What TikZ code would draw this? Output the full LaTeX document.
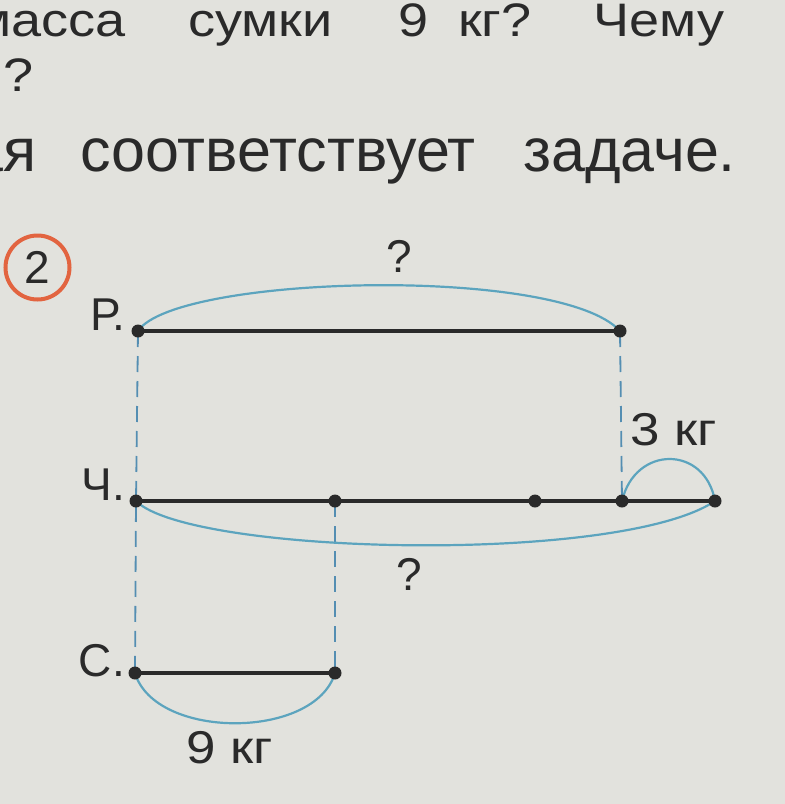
\documentclass[tikz,border=0pt]{standalone}
\usepackage{fontspec}
\setmainfont{Liberation Sans}
\usepackage{graphicx}
\usetikzlibrary{positioning}
\definecolor{paper}{RGB}{226,226,221}
\definecolor{ink}{RGB}{42,42,42}
\definecolor{arcblue}{RGB}{92,164,190}
\definecolor{dashblue}{RGB}{84,142,178}
\definecolor{ring}{RGB}{226,100,64}
\newcommand{\wide}[1]{\scalebox{1.15}[1]{#1}}
\tikzset{
seg/.style={draw=ink, line width=4pt},
brace/.style={draw=arcblue, line width=2.2pt},
guide/.style={draw=dashblue, line width=1.8pt, dash pattern=on 16pt off 9pt},
dot/.style={fill=ink},
txt/.style={inner sep=0pt, text=ink, anchor=base west, font=\fontsize{47}{47}\selectfont},
bigtxt/.style={inner sep=0pt, text=ink, anchor=base west, font=\fontsize{61}{61}\selectfont},
lbl/.style={inner sep=0pt, text=ink, font=\fontsize{46}{46}\selectfont}
}

\begin{document}
\begin{tikzpicture}[x=1pt,y=-1pt]
\fill[paper] (0,0) rectangle (785,804);
\useasboundingbox (0,0) rectangle (785,804);
\clip (0,0) rectangle (785,804);

\node[txt] (w1) at (-26,36) {\wide{масса}};
\node[txt] (w2) at (188,36) {\wide{сумки}};
\node[txt] (w3) at (398,36) {\wide{9}};
\node[txt] (w4) at (458,36) {\wide{кг?}};
\node[txt] (w5) at (593,36) {\wide{Чему}};
\node[txt] (w6) at (3,91) {\wide{?}};
\node[bigtxt, anchor=base east] (w7) at (37,171) {ая};
\node[bigtxt] (w8) at (80,171) {соответствует};
\node[bigtxt] (w9) at (523,171) {задаче.};

\node[draw=ring, line width=4pt, circle, minimum size=64pt, inner sep=0pt,
  font=\fontsize{46}{46}\selectfont, text=ink] (num) at (37.5,267.5) {2};

\coordinate (r1) at (138,331);
\coordinate (r2) at (620,331);
\coordinate (c1) at (136,501);
\coordinate (c2) at (335,501);
\coordinate (c3) at (535,501);
\coordinate (c4) at (622,501);
\coordinate (c5) at (715,501);
\coordinate (s1) at (135,673);
\coordinate (s2) at (335,673);

\draw[guide] (r1) -- (c1) -- (s1);
\draw[guide] (r2) -- (c4);
\draw[guide] (c2) -- (s2);

\draw[brace] (r1) .. controls +(37,-56) and +(-60,-66) .. (r2);
\draw[brace] (c1) .. controls +(54,54) and +(-95,64) .. (c5);
\draw[brace] (c4) .. controls +(13,-56) and +(-10,-56) .. (c5);
\draw[brace] (s1) .. controls +(20,67) and +(-20,67) .. (s2);

\draw[seg] (r1) -- (r2);
\draw[seg] (c1) -- (c5);
\draw[seg] (s1) -- (s2);
\foreach \p in {r1,r2,c1,c2,c3,c4,c5,s1,s2}
  \fill[dot] (\p) circle (6.5);

\node[lbl, anchor=base east] (lr) at (125,330) {Р.};
\node[lbl, anchor=base east] (lc) at (125,500) {Ч.};
\node[lbl, anchor=base east] (ls) at (125,676) {С.};
\node[lbl, anchor=base] (q1) at (399,272) {?};
\node[lbl, anchor=base west] (k3) at (630,445) {\wide{3 кг}};
\node[lbl, anchor=base] (q2) at (409,590) {?};
\node[lbl, anchor=base west] (k9) at (186,763) {\wide{9 кг}};
\end{tikzpicture}
\end{document}
